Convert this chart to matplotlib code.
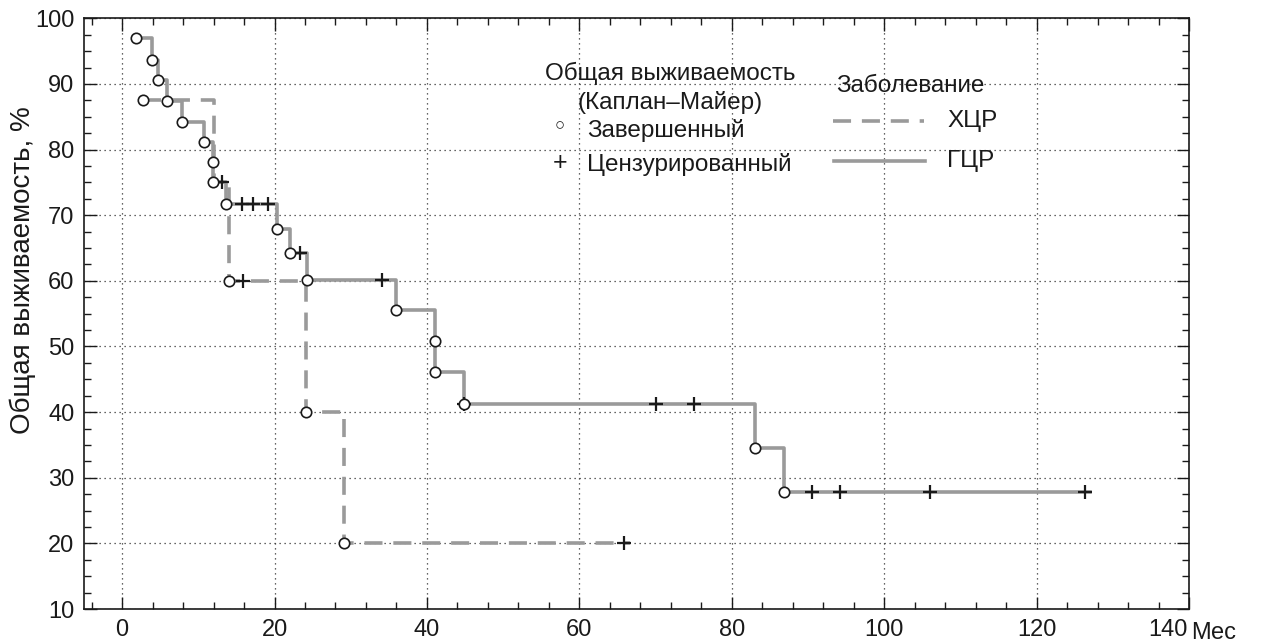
import matplotlib
matplotlib.use("Agg")
import matplotlib.pyplot as plt
from matplotlib.ticker import MultipleLocator, FixedFormatter
from matplotlib.lines import Line2D

plt.rcParams['font.family'] = ['Liberation Sans', 'DejaVu Sans']

# ГЦР (solid) step curve: event times and survival levels
gcr_event_t = [1.8, 3.9, 4.7, 5.9, 7.9, 10.8, 11.9, 11.9, 13.6, 20.3, 22.0, 24.2, 36.0, 41.0, 41.0, 44.8, 83.0, 86.8]
gcr_event_s = [97.0, 93.6, 90.6, 87.4, 84.2, 81.1, 78.1, 75.0, 71.7, 67.9, 64.2, 60.1, 55.6, 50.8, 46.1, 41.3, 34.6, 27.9]
gcr_cens_t = [13.1, 15.7, 17.2, 19.2, 23.3, 34.1, 44.8, 70.1, 75.0, 90.5, 94.2, 106.0, 126.4]
gcr_cens_s = [75.0, 71.7, 71.7, 71.7, 64.2, 60.1, 41.3, 41.3, 41.3, 27.9, 27.9, 27.9, 27.9]
gcr_end = 127.0

# ХЦР (dashed) step curve
xcr_event_t = [2.7, 12.1, 14.0, 24.1, 29.1]
xcr_event_s = [87.5, 75.0, 60.0, 40.0, 20.0]
xcr_shown = [True, False, True, True, True]
xcr_cens_t = [15.9, 65.9]
xcr_cens_s = [60.0, 20.0]
xcr_end = 66.6

xticks = [0, 20, 40, 60, 80, 100, 120, 140]
xticklabels = ['0', '20', '40', '60', '80', '100', '120', '140']
yticks = [10, 20, 30, 40, 50, 60, 70, 80, 90, 100]

line_col = '#9a9a9a'
ink = '#1a1a1a'

fig = plt.figure(figsize=(12.75, 6.43), dpi=100)
ax = fig.add_axes([84/1275, 1-609/643, (1189-84)/1275, (609-18.3)/643])


def step_xy(ts, ss, end):
    xs, ys = [], []
    for i, (t, s) in enumerate(zip(ts, ss)):
        if i > 0:
            xs.append(t); ys.append(ss[i-1])
        xs.append(t); ys.append(s)
    xs.append(end); ys.append(ss[-1])
    return xs, ys

gx, gy = step_xy(gcr_event_t, gcr_event_s, gcr_end)
xx, xy = step_xy(xcr_event_t, xcr_event_s, xcr_end)

ax.plot(xx, xy, color=line_col, lw=2.6, ls=(0, (5, 3)), zorder=3)
ax.plot(gx, gy, color=line_col, lw=2.6, ls='-', zorder=3)

ax.plot(gcr_cens_t, gcr_cens_s, ls='none', marker='+', ms=10, mew=1.6, color=ink, zorder=4)
ax.plot(xcr_cens_t, xcr_cens_s, ls='none', marker='+', ms=10, mew=1.6, color=ink, zorder=4)
ax.plot(gcr_event_t, gcr_event_s, ls='none', marker='o', ms=7.5, mew=1.2, mfc='white', mec=ink, zorder=5)
ax.plot([t for t, s in zip(xcr_event_t, xcr_shown) if s],
        [v for v, s in zip(xcr_event_s, xcr_shown) if s],
        ls='none', marker='o', ms=7.5, mew=1.2, mfc='white', mec=ink, zorder=5)

ax.set_xlim(-5, 140)
ax.set_ylim(10, 100)
ax.set_xticks(xticks)
# last label (140) is placed by hand, shifted left to make room for the unit
ax.xaxis.set_major_formatter(FixedFormatter(xticklabels[:-1] + ['']))
ax.set_yticks(yticks)
ax.xaxis.set_minor_locator(MultipleLocator(4))
ax.yaxis.set_minor_locator(MultipleLocator(2.5))
ax.tick_params(which='both', direction='in', top=True, right=True, labelsize=17, colors=ink)
ax.tick_params(which='major', length=9, width=1.0)
ax.tick_params(which='minor', length=5, width=1.0)
ax.tick_params(axis='x', pad=7)
ax.tick_params(axis='y', pad=7)
ax.grid(True, which='major', ls=(0, (1, 3)), color='#333333', lw=0.9)
for sp in ax.spines.values():
    sp.set_linewidth(1.2)
    sp.set_color(ink)

fig.text(1168/1275, 1-630/643, xticklabels[-1], fontsize=17, color=ink, ha='center', va='center')
fig.text(1214/1275, 1-633/643, 'Мес', fontsize=17, color=ink, ha='center', va='center')

ax.set_ylabel('Общая выживаемость, %', fontsize=20, color=ink)
ax.yaxis.set_label_coords(-(84-36)/(1189-84), (609-270)/(609-18.3))

# legend texts
tkw = dict(fontsize=17.5, color=ink, va='center')
fig.text(670/1275, 1-73/643, 'Общая выживаемость', ha='center', **tkw)
fig.text(670/1275, 1-102/643, '(Каплан–Майер)', ha='center', **tkw)
fig.text(560/1275, 1-126/643, '○', ha='center', fontsize=12, color=ink, va='center')
fig.text(587/1275, 1-131/643, 'Завершенный', ha='left', **tkw)
fig.text(560/1275, 1-163/643, '+', ha='center', fontsize=18, color=ink, va='center')
fig.text(587/1275, 1-164/643, 'Цензурированный', ha='left', **tkw)
fig.text(910/1275, 1-86/643, 'Заболевание', ha='center', **tkw)
fig.text(947/1275, 1-121/643, 'ХЦР', ha='left', **tkw)
fig.text(947/1275, 1-161/643, 'ГЦР', ha='left', **tkw)

fig.add_artist(Line2D([833/1275, 924/1275], [1-121/643, 1-121/643], color=line_col, lw=2.6,
                      ls=(0, (5, 3)), transform=fig.transFigure))
fig.add_artist(Line2D([834/1275, 925/1275], [1-161/643, 1-161/643], color=line_col, lw=2.6,
                      ls='-', transform=fig.transFigure))

fig.savefig('out.png', dpi=100)
